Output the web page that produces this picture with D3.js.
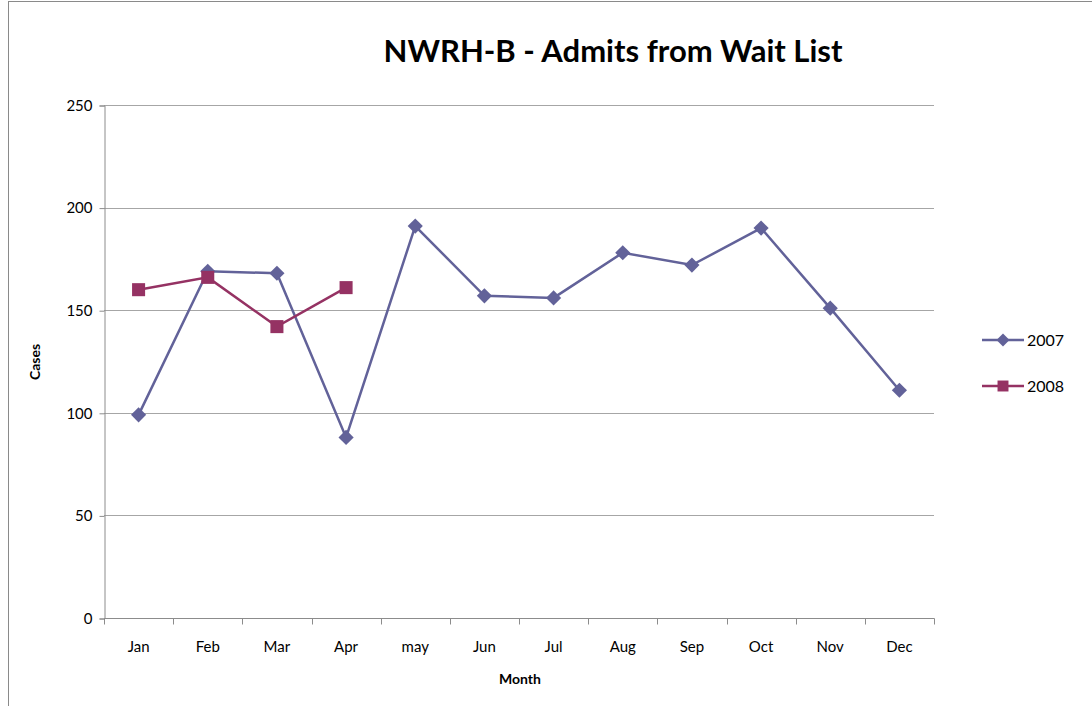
<!DOCTYPE html>
<html>
<head>
<meta charset="utf-8">
<script src="https://cdn.jsdelivr.net/npm/d3@7"></script>
<style>
  html, body { margin: 0; padding: 0; background: #fff; }
  svg { display: block; }
  text { font-family: Lato, "Open Sans", "Liberation Sans", sans-serif; }
</style>
</head>
<body>
<svg id="chart" width="1092" height="706"></svg>
<script>
const months = ["Jan","Feb","Mar","Apr","may","Jun","Jul","Aug","Sep","Oct","Nov","Dec"];
const values2007 = [99, 169, 168, 88, 191, 157, 156, 178, 172, 190, 151, 111];
const values2008 = [160, 166, 142, 161];
const yTicks = [0, 50, 100, 150, 200, 250];
const seriesNames = ["2007", "2008"];
const seriesColors = ["#626299", "#953263"];

const svg = d3.select("#chart");
const margin = { left: 104, right: 1092 - 934, top: 105, bottom: 706 - 618 };
const W = 1092, H = 706;

// outer chart border
svg.append("rect").attr("x", 8.5).attr("y", 1.5).attr("width", 1100).attr("height", 720)
  .attr("fill", "none").attr("stroke", "#8a8a8a").attr("stroke-width", 1);

const x = d3.scaleBand().domain(months).range([margin.left, W - margin.right]);
const y = d3.scaleLinear().domain([0, 250]).range([H - margin.bottom, margin.top]);

// gridlines
svg.append("g").selectAll("line").data(yTicks.filter(d => d > 0)).join("line")
  .attr("x1", margin.left).attr("x2", W - margin.right)
  .attr("y1", d => Math.round(y(d)) + 0.5).attr("y2", d => Math.round(y(d)) + 0.5)
  .attr("stroke", "#a6a6a6").attr("stroke-width", 1);

// y axis
const yAxis = svg.append("g").attr("transform", `translate(${margin.left + 0.5},0.5)`)
  .call(d3.axisLeft(y).tickValues(yTicks).tickSize(5).tickPadding(7));
yAxis.select(".domain").attr("stroke", "#8c8c8c");
yAxis.selectAll(".tick line").attr("stroke", "#8c8c8c");
yAxis.selectAll(".tick text").attr("font-size", 15).attr("fill", "#000")
  .style("font-family", "Lato, 'Open Sans', sans-serif");

// x axis with ticks at band edges
const xAxisG = svg.append("g").attr("transform", `translate(0,${Math.round(y(0)) + 0.5})`);
xAxisG.append("line").attr("x1", margin.left).attr("x2", W - margin.right + 0.5)
  .attr("stroke", "#8c8c8c");
const edges = months.map(m => x(m)).concat([x.range()[1]]);
xAxisG.selectAll("line.tk").data(edges).join("line").attr("class", "tk")
  .attr("x1", d => Math.round(d) + 0.5).attr("x2", d => Math.round(d) + 0.5)
  .attr("y1", 0).attr("y2", 6).attr("stroke", "#8c8c8c");
xAxisG.selectAll("text").data(months).join("text")
  .attr("x", d => x(d) + x.bandwidth() / 2).attr("y", 33)
  .attr("text-anchor", "middle").attr("font-size", 15).attr("fill", "#000")
  .text(d => d);

// title
svg.append("text").attr("x", 613).attr("y", 62).attr("text-anchor", "middle")
  .attr("font-size", 31).attr("font-weight", "bold").attr("fill", "#000")
  .text("NWRH-B - Admits from Wait List");

// axis titles
svg.append("text").attr("x", 520).attr("y", 684).attr("text-anchor", "middle")
  .attr("font-size", 14).attr("font-weight", "bold").text("Month");
svg.append("text").attr("transform", "translate(40,362) rotate(-90)")
  .attr("text-anchor", "middle").attr("font-size", 14).attr("font-weight", "bold").text("Cases");

const cx = (d, i) => x(months[i]) + x.bandwidth() / 2;
const line = d3.line().x(cx).y(d => y(d));

const diamond = d3.symbol().type(d3.symbolSquare).size(115);
const square = d3.symbol().type(d3.symbolSquare).size(170);

// 2007
svg.append("path").datum(values2007).attr("d", line).attr("fill", "none")
  .attr("stroke", seriesColors[0]).attr("stroke-width", 2.5);
svg.append("g").selectAll("path").data(values2007).join("path")
  .attr("transform", (d, i) => `translate(${cx(d, i)},${y(d)}) rotate(45)`)
  .attr("d", diamond).attr("fill", seriesColors[0]);

// 2008
svg.append("path").datum(values2008).attr("d", line).attr("fill", "none")
  .attr("stroke", seriesColors[1]).attr("stroke-width", 2.5);
svg.append("g").selectAll("path").data(values2008).join("path")
  .attr("transform", (d, i) => `translate(${cx(d, i)},${y(d)})`)
  .attr("d", square).attr("fill", seriesColors[1]);

// legend
const legendY = [340, 386];
const lg = svg.append("g");
seriesNames.forEach((name, i) => {
  const g = lg.append("g").attr("transform", `translate(0,${legendY[i]})`);
  g.append("line").attr("x1", 982).attr("x2", 1024).attr("y1", 0).attr("y2", 0)
    .attr("stroke", seriesColors[i]).attr("stroke-width", 2.5);
  g.append("path").attr("transform", i === 0 ? "translate(1003,0) rotate(45)" : "translate(1003,0)")
    .attr("d", d3.symbol().type(d3.symbolSquare).size(i === 0 ? 85 : 120)())
    .attr("fill", seriesColors[i]);
  g.append("text").attr("x", 1027).attr("y", 6).attr("font-size", 16).attr("fill", "#000").text(name);
});
</script>
</body>
</html>
